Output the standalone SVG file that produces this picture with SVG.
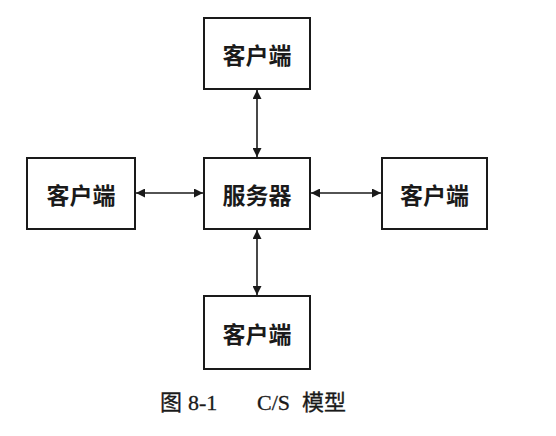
<svg xmlns="http://www.w3.org/2000/svg" width="556" height="436" viewBox="0 0 556 436">
  <style>
    .box { fill: #ffffff; stroke: #1a1a1a; stroke-width: 2; }
    .label { font-family: "Noto Sans CJK SC", "Noto Sans", sans-serif; font-size: 23px; font-weight: bold; fill: #1a1a1a; text-anchor: middle; dominant-baseline: central; }
    .link { stroke: #1a1a1a; stroke-width: 1.6; fill: none; marker-start: url(#head); marker-end: url(#head); }
    .caption { font-family: "Liberation Serif", "Noto Sans CJK SC", serif; font-size: 22px; fill: #1a1a1a; stroke: #1a1a1a; stroke-width: 0.3; }
  </style>
  <defs>
    <marker id="head" viewBox="0 0 10 10" refX="10" refY="5" markerWidth="12" markerHeight="9" markerUnits="userSpaceOnUse" orient="auto-start-reverse">
      <path d="M0,0 L10,5 L0,10 z" fill="#1a1a1a"/>
    </marker>
  </defs>
  <rect width="556" height="436" fill="#ffffff"/>

  <g id="connectors">
    <line class="link" x1="257" y1="90" x2="257" y2="157"/>
    <line class="link" x1="257" y1="230" x2="257" y2="295"/>
    <line class="link" x1="136" y1="193" x2="203" y2="193"/>
    <line class="link" x1="311" y1="193" x2="381" y2="193"/>
  </g>

  <g id="client-top">
    <rect class="box" x="204" y="18" width="106" height="71"/>
    <text class="label" x="257" y="53.5">客户端</text>
  </g>
  <g id="client-left">
    <rect class="box" x="27" y="158" width="108" height="71"/>
    <text class="label" x="81" y="193.5">客户端</text>
  </g>
  <g id="server">
    <rect class="box" x="204" y="158" width="106" height="71"/>
    <text class="label" x="257" y="193.5">服务器</text>
  </g>
  <g id="client-right">
    <rect class="box" x="382" y="158" width="105" height="71"/>
    <text class="label" x="434.5" y="193.5">客户端</text>
  </g>
  <g id="client-bottom">
    <rect class="box" x="204" y="296" width="106" height="73"/>
    <text class="label" x="257" y="332.5">客户端</text>
  </g>

  <text class="caption" y="410"><tspan x="160">图</tspan><tspan x="188">8-1</tspan><tspan x="257">C/S</tspan><tspan x="302">模型</tspan></text>
</svg>
